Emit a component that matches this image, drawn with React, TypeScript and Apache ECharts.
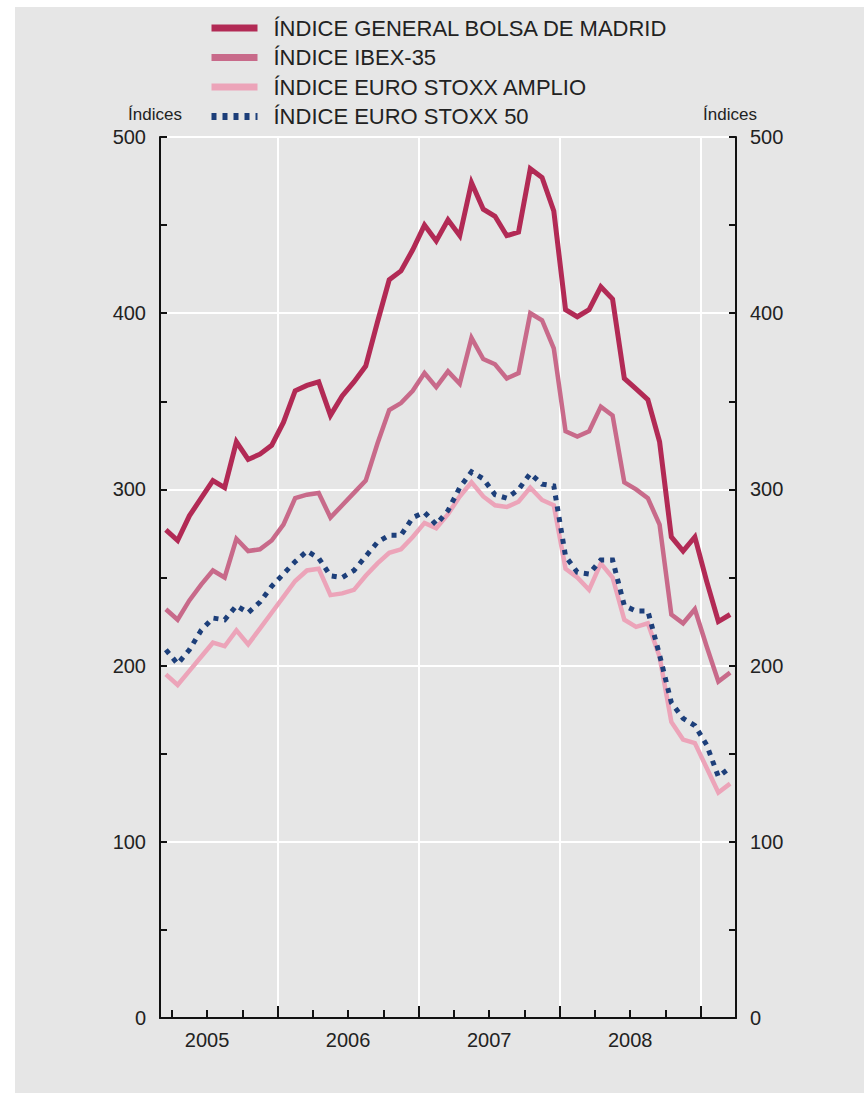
import React, { useEffect, useRef } from "react";
import * as echarts from "echarts";

// Monthly observations, March 2005 – March 2009
const START_YEAR = 2005;
const START_MONTH = 3;
const N_MONTHS = 49;
const months: string[] = [];
for (let i = 0; i < N_MONTHS; i++) {
  const idx = START_MONTH - 1 + i;
  const y = START_YEAR + Math.floor(idx / 12);
  const m = (idx % 12) + 1;
  months.push(`${y}-${String(m).padStart(2, "0")}`);
}

const seriesNames = [
  "ÍNDICE GENERAL BOLSA DE MADRID",
  "ÍNDICE IBEX-35",
  "ÍNDICE EURO STOXX AMPLIO",
  "ÍNDICE EURO STOXX 50",
];

const madrid = [
  277, 271, 285, 295, 305, 301, 327, 317, 320, 325, 338, 356, 359, 361, 342, 353,
  361, 370, 395, 419, 424, 436, 450, 441, 453, 444, 474, 459, 455, 444, 446, 482,
  477, 458, 402, 398, 402, 415, 408, 363, 357, 351, 327, 273, 265, 273, 248, 225, 229,
];
const ibex = [
  232, 226, 237, 246, 254, 250, 272, 265, 266, 271, 280, 295, 297, 298, 284, 291,
  298, 305, 326, 345, 349, 356, 366, 358, 367, 360, 386, 374, 371, 363, 366, 400,
  396, 380, 333, 330, 333, 347, 342, 304, 300, 295, 280, 229, 224, 232, 211, 191, 196,
];
const stoxxAmplio = [
  195, 189, 197, 205, 213, 211, 220, 212, 221, 230, 239, 248, 254, 255, 240, 241,
  243, 251, 258, 264, 266, 273, 281, 278, 286, 296, 304, 296, 291, 290, 293, 301,
  294, 291, 255, 250, 243, 258, 250, 226, 222, 224, 205, 168, 158, 156, 142, 128, 133,
];
const stoxx50 = [
  209, 201, 209, 220, 227, 226, 234, 230, 236, 245, 252, 259, 265, 261, 251, 250,
  254, 262, 270, 274, 274, 284, 287, 280, 288, 301, 310, 306, 297, 295, 300, 309,
  303, 302, 262, 253, 252, 260, 260, 234, 231, 231, 206, 179, 170, 166, 155, 137, 142,
];

const yearLabels = ["2005", "2006", "2007", "2008"];
const yLabels = [0, 100, 200, 300, 400, 500];

// x-axis scale in months counted from January 2005
const X_MIN = 2;
const X_MAX = 51;
const yearCenters = yearLabels.map((_, i) => i * 12 + 6);
const yearBounds = [12, 24, 36, 48];
const quarterTicks = [3, 6, 9, 15, 18, 21, 27, 30, 33, 39, 42, 45];

const monthToX = (s: string) => {
  const [y, m] = s.split("-").map(Number);
  return (y - START_YEAR) * 12 + (m - 1) + 0.5;
};

const FONT = "'Liberation Sans', Arial, sans-serif";
const TXT = "#222222";

export default function App() {
  const ref = useRef<HTMLDivElement>(null);

  useEffect(() => {
    if (!ref.current) return;
    const chart = echarts.init(ref.current, undefined, { renderer: "svg" });
    const pts = (vals: number[]) => months.map((m, i) => [monthToX(m), vals[i]]);

    const yAxisBase = (position: "left" | "right", split: boolean) => ({
      type: "value",
      position,
      min: yLabels[0],
      max: yLabels[yLabels.length - 1],
      interval: 100,
      axisLine: { show: true, lineStyle: { color: "#111", width: 2 } },
      axisTick: { show: true, inside: true, length: 7, lineStyle: { color: "#111", width: 2 } },
      minorTick: { show: true, splitNumber: 2, length: 7, lineStyle: { color: "#111", width: 2 } },
      axisLabel: { fontSize: 20, margin: 14, color: TXT, fontFamily: FONT },
      splitLine: { show: split, lineStyle: { color: "#ffffff", width: 2 } },
    });

    const lineSeries = (name: string, vals: number[], color: string, width: number, type: any, z: number) => ({
      name,
      type: "line",
      xAxisIndex: 0,
      yAxisIndex: 0,
      data: pts(vals),
      symbol: "none",
      z,
      lineStyle: { color, width, type, cap: "butt", join: "miter" },
      itemStyle: { color },
    });

    chart.setOption({
      animation: false,
      backgroundColor: "#ffffff",
      textStyle: { fontFamily: FONT },
      graphic: [
        { type: "rect", z: -10, shape: { x: 15, y: 7, width: 849, height: 1086 }, style: { fill: "#e6e6e6" } },
        { type: "text", x: 155, y: 114, style: { text: "Índices", fontSize: 17, fill: TXT, fontFamily: FONT, align: "center", verticalAlign: "middle" } },
        { type: "text", x: 730, y: 114, style: { text: "Índices", fontSize: 17, fill: TXT, fontFamily: FONT, align: "center", verticalAlign: "middle" } },
      ],
      legend: {
        orient: "vertical",
        left: 203,
        top: 12,
        itemWidth: 46,
        itemHeight: 8,
        itemGap: 7.5,
        selectedMode: false,
        itemStyle: { opacity: 0 },
        lineStyle: { width: 7 },
        textStyle: { fontSize: 22, color: TXT, fontFamily: FONT, padding: [0, 0, 0, 11], lineHeight: 22 },
        data: seriesNames,
      },
      grid: { left: 160, right: 128, top: 137, bottom: 90, containLabel: false },
      xAxis: [
        {
          type: "value",
          min: X_MIN,
          max: X_MAX,
          position: "bottom",
          axisLine: { show: true, onZero: false, lineStyle: { color: "#111", width: 2 } },
          axisTick: { show: true, inside: true, length: 8, lineStyle: { color: "#111", width: 2 }, customValues: quarterTicks },
          axisLabel: {
            show: true,
            customValues: yearCenters,
            formatter: (v: number) => yearLabels[yearCenters.indexOf(Math.round(v))] ?? "",
            fontSize: 20,
            margin: 12,
            color: TXT,
            fontFamily: FONT,
          },
          splitLine: { show: false },
        },
        {
          type: "value",
          min: X_MIN,
          max: X_MAX,
          position: "bottom",
          axisLine: { show: false },
          axisTick: { show: true, inside: true, length: 12, lineStyle: { color: "#111", width: 2 }, customValues: yearBounds },
          axisLabel: { show: false, customValues: yearBounds },
          splitLine: { show: true, lineStyle: { color: "#ffffff", width: 2 } },
        },
      ],
      yAxis: [yAxisBase("left", true), yAxisBase("right", false)],
      series: [
        lineSeries(seriesNames[0], madrid, "#b22a55", 5, "solid", 5),
        lineSeries(seriesNames[1], ibex, "#c86a8a", 4.5, "solid", 4),
        lineSeries(seriesNames[2], stoxxAmplio, "#eca4b9", 4.5, "solid", 3),
        lineSeries(seriesNames[3], stoxx50, "#1d3f7a", 5, [5, 6], 6),
      ],
    });
    return () => chart.dispose();
  }, []);

  return (
    <div style={{ position: "absolute", left: 0, top: 0, width: 864, height: 1108, background: "#fff" }}>
      <div ref={ref} style={{ width: 864, height: 1108 }} />
    </div>
  );
}
